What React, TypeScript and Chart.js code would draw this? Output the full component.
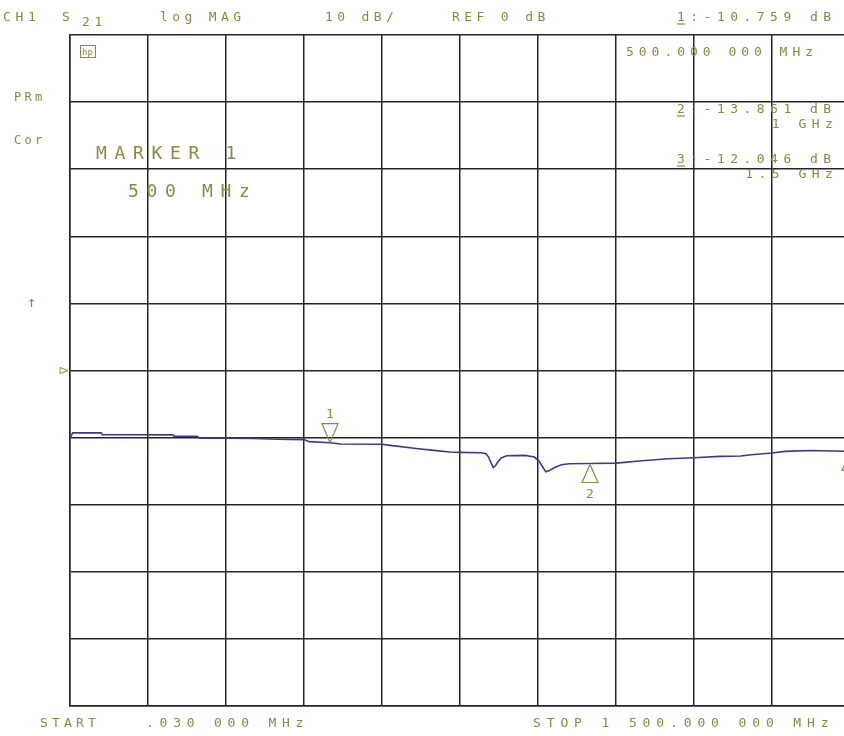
import React, { useEffect, useRef } from "react";
import { Chart, registerables } from "chart.js";

Chart.register(...registerables);

// ---- data ----
const freqMHz = [
  0.03, 5, 60, 62, 120, 198, 200, 244, 250, 300, 350, 400, 450, 460, 500, 520,
  600, 620, 670, 700, 730, 750, 790, 800, 805, 810, 814, 818, 823, 830, 840,
  875, 893, 902, 910, 915, 922, 932, 945, 960, 1000, 1050, 1100, 1150, 1200,
  1250, 1290, 1310, 1350, 1375, 1425, 1465, 1500,
];
const s21dB = [
  -10.1, -9.3, -9.3, -9.55, -9.58, -9.6, -9.78, -9.8, -10.08, -10.1, -10.12,
  -10.25, -10.3, -10.6, -10.759, -10.95, -10.98, -11.2, -11.65, -11.9, -12.15,
  -12.2, -12.25, -12.4, -12.9, -13.8, -14.45, -14.2, -13.6, -13.0, -12.7,
  -12.65, -12.9, -13.5, -14.5, -15.1, -14.9, -14.45, -14.05, -13.9, -13.861,
  -13.8, -13.45, -13.15, -13.0, -12.8, -12.75, -12.55, -12.3, -12.05, -11.92,
  -12.0, -12.046,
];
const markerFreqMHz = [500, 1000, 1500];
const markerDb = [-10.759, -13.861, -12.046];
const markerFreqLabel = ["500.000 000 MHz", "1 GHz", "1.5 GHz"];

const startLabel = "START";
const startValue = ".030 000 MHz";
const stopLabel = "STOP 1 500.000 000 MHz";
const headerTexts = ["CH1", "S", "21", "log MAG", "10 dB/", "REF 0 dB"];
const sideTexts = ["PRm", "Cor", "\u2191"];
const markerTitle = ["MARKER 1", "500 MHz"];

const X_MIN = 0;
const X_MAX = 1500;
const X_STEP = 150;
const Y_MIN = -50;
const Y_MAX = 50;
const Y_STEP = 10;

const TEXT = "#8a8844";
const TRACE = "#3a3a8e";
const GRID = "#262626";

function monoText(
  ctx: CanvasRenderingContext2D,
  s: string,
  x: number,
  y: number,
  pitch: number,
  size: number
) {
  ctx.font = `${size}px "DejaVu Sans Mono"`;
  ctx.textBaseline = "alphabetic";
  ctx.textAlign = "left";
  for (let i = 0; i < s.length; i++) {
    ctx.fillText(s[i], x + i * pitch, y);
  }
}

const overlay = {
  id: "hpOverlay",
  afterDatasetsDraw(chart: any) {
    const ctx: CanvasRenderingContext2D = chart.ctx;
    const xs = chart.scales.x;
    const ys = chart.scales.y;
    ctx.save();
    ctx.fillStyle = TEXT;
    ctx.strokeStyle = TEXT;
    ctx.lineWidth = 1.2;

    const fs = 13;
    // header
    monoText(ctx, headerTexts[0], 3, 21, 12.5, fs);
    monoText(ctx, headerTexts[1], 62, 21, 12.5, fs);
    monoText(ctx, headerTexts[2], 82, 26, 12.5, fs);
    monoText(ctx, headerTexts[3], 160, 21, 12.2, fs);
    monoText(ctx, headerTexts[4], 325, 21, 12.2, fs);
    monoText(ctx, headerTexts[5], 452, 21, 12.2, fs);

    // marker readouts
    const rx = 677;
    const rp = 13.3;
    const lines = [21, 113, 163];
    for (let i = 0; i < markerDb.length; i++) {
      const v = markerDb[i].toFixed(3);
      const s = `${i + 1}:${v} dB`;
      monoText(ctx, s, rx, lines[i], rp, fs);
      ctx.beginPath();
      ctx.moveTo(rx, lines[i] + 3);
      ctx.lineTo(rx + 8, lines[i] + 3);
      ctx.stroke();
    }
    monoText(ctx, markerFreqLabel[0], 626, 56, 12.8, fs);
    const f2 = markerFreqLabel[1];
    monoText(ctx, f2, 833 - 8 - (f2.length - 1) * 13.3, 128, 13.3, fs);
    const f3 = markerFreqLabel[2];
    monoText(ctx, f3, 833 - 8 - (f3.length - 1) * 13.3, 178, 13.3, fs);

    // side labels
    monoText(ctx, sideTexts[0], 14, 101, 10.5, 12);
    monoText(ctx, sideTexts[1], 14, 144, 10.5, 12);
    monoText(ctx, sideTexts[2], 27, 307, 10.5, 15);

    // marker title
    monoText(ctx, markerTitle[0], 96, 159, 18.5, 18);
    monoText(ctx, markerTitle[1], 128, 197, 18.5, 18);

    // hp logo
    ctx.lineWidth = 1;
    ctx.strokeRect(80.5, 45.5, 15, 12);
    monoText(ctx, "hp", 82, 55, 5.5, 9);

    // bottom labels
    monoText(ctx, startLabel, 40, 727, 12, fs);
    monoText(ctx, startValue, 146, 727, 13.6, fs);
    monoText(ctx, stopLabel, 533, 727, 13.7, fs);

    // reference position marker
    const ry = ys.getPixelForValue(0);
    ctx.beginPath();
    ctx.moveTo(60, ry - 3);
    ctx.lineTo(68, ry);
    ctx.lineTo(60, ry + 3);
    ctx.closePath();
    ctx.stroke();

    // markers
    ctx.lineWidth = 1.2;
    for (let i = 0; i < markerFreqMHz.length; i++) {
      const px = xs.getPixelForValue(markerFreqMHz[i]);
      const py = ys.getPixelForValue(markerDb[i]);
      ctx.beginPath();
      if (i === 0) {
        ctx.moveTo(px, py);
        ctx.lineTo(px - 8, py - 19);
        ctx.lineTo(px + 8, py - 19);
        ctx.closePath();
        ctx.stroke();
        monoText(ctx, String(i + 1), px - 4, py - 25, 10, 13);
      } else {
        ctx.moveTo(px, py + 1);
        ctx.lineTo(px - 8, py + 19);
        ctx.lineTo(px + 8, py + 19);
        ctx.closePath();
        ctx.stroke();
        monoText(ctx, String(i + 1), px - 4, py + 34, 10, 13);
      }
    }
    ctx.restore();
  },
};

export default function App() {
  const ref = useRef<HTMLCanvasElement | null>(null);
  useEffect(() => {
    if (!ref.current) return;
    const data = freqMHz.map((f, i) => ({ x: f, y: s21dB[i] }));
    const chart = new Chart(ref.current, {
      type: "line",
      data: {
        datasets: [
          {
            data,
            borderColor: TRACE,
            borderWidth: 1.6,
            pointRadius: 0,
            tension: 0,
            fill: false,
          },
        ],
      },
      options: {
        responsive: false,
        animation: false,
        devicePixelRatio: 1,
        layout: { padding: { left: 70, right: 10, top: 35, bottom: 30 } },
        plugins: {
          legend: { display: false },
          tooltip: { enabled: false },
          title: { display: false },
        },
        scales: {
          x: {
            type: "linear",
            min: X_MIN,
            max: X_MAX,
            ticks: { display: false, stepSize: X_STEP },
            grid: { color: GRID, lineWidth: 1.5, drawTicks: false },
            border: { color: GRID, width: 1.5 },
            afterFit: (s: any) => {
              s.height = 0;
            },
          },
          y: {
            type: "linear",
            min: Y_MIN,
            max: Y_MAX,
            ticks: { display: false, stepSize: Y_STEP },
            grid: { color: GRID, lineWidth: 1.5, drawTicks: false },
            border: { color: GRID, width: 1.5 },
            afterFit: (s: any) => {
              s.width = 0;
            },
          },
        },
      },
      plugins: [overlay],
    });
    return () => chart.destroy();
  }, []);
  return (
    <div
      style={{
        position: "fixed",
        left: 0,
        top: 0,
        width: 844,
        height: 736,
        overflow: "hidden",
        background: "#ffffff",
      }}
    >
      <canvas ref={ref} width={860} height={736} style={{ display: "block" }} />
    </div>
  );
}
